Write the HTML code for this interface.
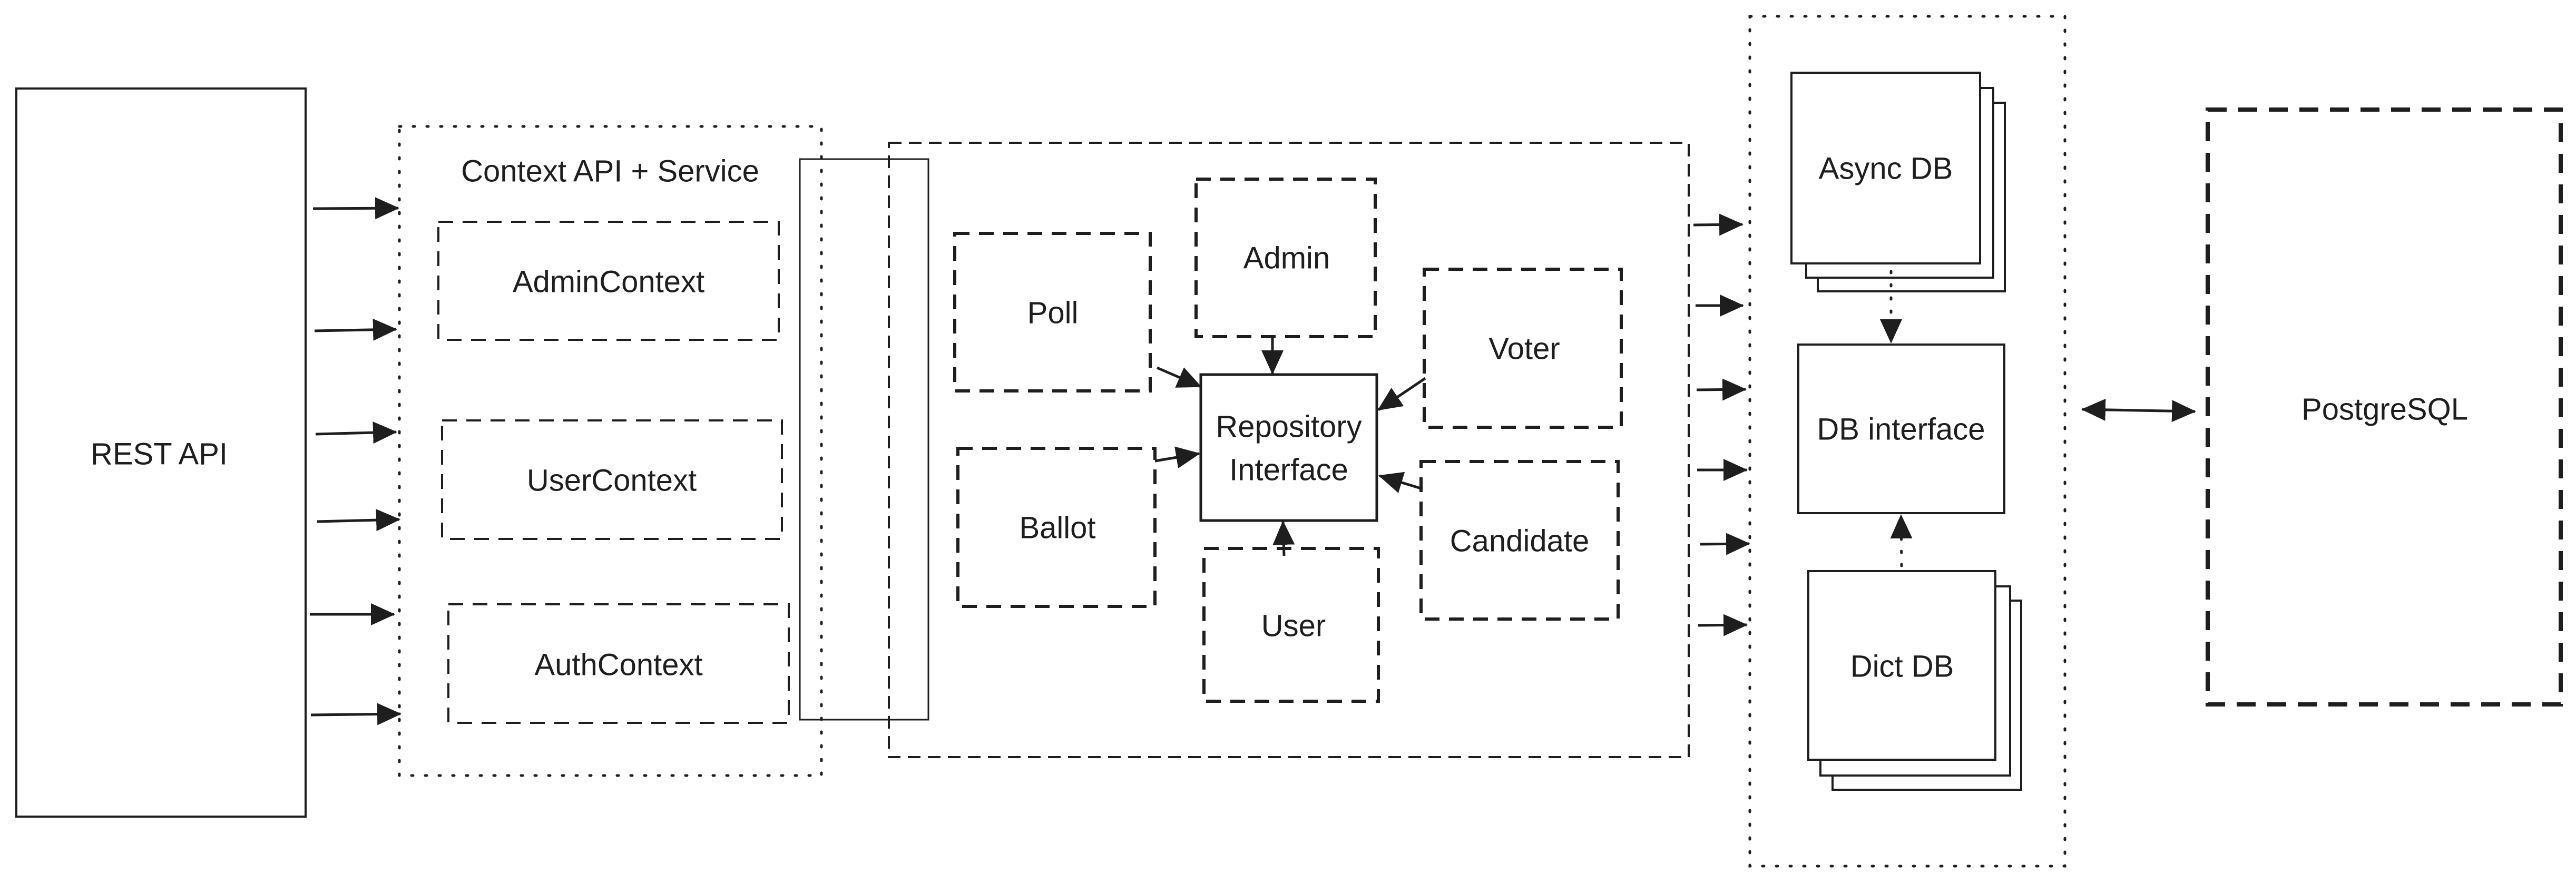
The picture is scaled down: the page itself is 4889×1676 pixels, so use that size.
<!DOCTYPE html>
<html><head><meta charset="utf-8"><style>
html,body{margin:0;padding:0;background:#fff}
svg{display:block}
text{font-family:"Liberation Sans",sans-serif;fill:#1e1e1e;text-anchor:middle;dominant-baseline:central}
</style></head><body>
<svg width="4889" height="1676" viewBox="0 0 4889 1676" xmlns="http://www.w3.org/2000/svg">
<defs>
<marker id="ah" viewBox="0 0 46 46" refX="44" refY="23" markerWidth="46" markerHeight="46" markerUnits="userSpaceOnUse" orient="auto">
<path d="M0,2 L46,23 L0,44 Z" fill="#1e1e1e"/></marker>
<marker id="ahs" viewBox="0 0 46 46" refX="2" refY="23" markerWidth="46" markerHeight="46" markerUnits="userSpaceOnUse" orient="auto">
<path d="M46,2 L0,23 L46,44 Z" fill="#1e1e1e"/></marker>
</defs>
<g fill="none" stroke="#1e1e1e">
<!-- REST API -->
<rect x="31" y="168" width="549" height="1382" stroke-width="4"/>
<!-- context dotted -->
<rect x="758" y="240" width="801" height="1232" stroke-width="5" stroke-dasharray="3 23" stroke-linecap="round"/>
<rect x="832" y="421" width="646" height="224" stroke-width="4" stroke-dasharray="28 18"/>
<rect x="839" y="798" width="645" height="225" stroke-width="4" stroke-dasharray="28 18"/>
<rect x="851" y="1147" width="646" height="225" stroke-width="4" stroke-dasharray="28 18"/>
<!-- thin solid -->
<rect x="1518" y="302" width="244" height="1064" stroke-width="3"/>
<!-- large dashed -->
<rect x="1687" y="271" width="1518" height="1166" stroke-width="4" stroke-dasharray="24 14"/>
<!-- entity boxes -->
<rect x="1812" y="443" width="371" height="299" stroke-width="6" stroke-dasharray="28 18"/>
<rect x="2270" y="340" width="340" height="299" stroke-width="6" stroke-dasharray="28 18"/>
<rect x="2703" y="511" width="374" height="300" stroke-width="6" stroke-dasharray="28 18"/>
<rect x="1818" y="851" width="374" height="300" stroke-width="6" stroke-dasharray="28 18"/>
<rect x="2697" y="876" width="374" height="299" stroke-width="6" stroke-dasharray="28 18"/>
<rect x="2285" y="1041" width="331" height="290" stroke-width="6" stroke-dasharray="28 18"/>
<rect x="2279" y="711" width="334" height="277" stroke-width="5"/>
<!-- DB dotted -->
<rect x="3321" y="31" width="598" height="1613" stroke-width="5" stroke-dasharray="3 23" stroke-linecap="round"/>
<!-- stacks -->
<rect x="3450" y="195" width="355" height="358" stroke-width="4" fill="#fff"/>
<rect x="3428" y="167" width="355" height="360" stroke-width="4" fill="#fff"/>
<rect x="3400" y="138" width="358" height="362" stroke-width="4" fill="#fff"/>
<rect x="3413" y="654" width="391" height="320" stroke-width="4"/>
<rect x="3478" y="1140" width="358" height="359" stroke-width="4" fill="#fff"/>
<rect x="3455" y="1113" width="360" height="359" stroke-width="4" fill="#fff"/>
<rect x="3432" y="1084" width="355" height="358" stroke-width="4" fill="#fff"/>
<!-- PostgreSQL -->
<rect x="4190" y="208" width="670" height="1129" stroke-width="8" stroke-dasharray="36 22"/>
<!-- arrows REST -> context -->
<g stroke-width="5" marker-end="url(#ah)">
<line x1="594" y1="396" x2="756" y2="395"/>
<line x1="597" y1="628" x2="752" y2="625"/>
<line x1="599" y1="824" x2="752" y2="820"/>
<line x1="602" y1="990" x2="758" y2="986"/>
<line x1="588" y1="1166" x2="748" y2="1166"/>
<line x1="590" y1="1357" x2="760" y2="1355"/>
</g>
<!-- arrows big -> DB -->
<g stroke-width="5" marker-end="url(#ah)">
<line x1="3214" y1="427" x2="3307" y2="426"/>
<line x1="3218" y1="580" x2="3308" y2="580"/>
<line x1="3220" y1="740" x2="3313" y2="739"/>
<line x1="3221" y1="892" x2="3315" y2="892"/>
<line x1="3227" y1="1033" x2="3320" y2="1032"/>
<line x1="3223" y1="1187" x2="3315" y2="1186"/>
</g>
<!-- inner arrows -->
<g stroke-width="5" marker-end="url(#ah)">
<line x1="2196" y1="698" x2="2279" y2="734"/>
<line x1="2415" y1="642" x2="2415" y2="709"/>
<line x1="2705" y1="718" x2="2616" y2="778"/>
<line x1="2192" y1="875" x2="2276" y2="861"/>
<line x1="2700" y1="928" x2="2618" y2="903"/>
<line x1="2437" y1="1055" x2="2435" y2="990"/>
</g>
<!-- dotted DB arrows -->
<g stroke-width="5" stroke-dasharray="3 22" stroke-linecap="round" marker-end="url(#ah)">
<line x1="3589" y1="515" x2="3589" y2="650"/>
<line x1="3609" y1="1074" x2="3608" y2="978"/>
</g>
<line x1="3952" y1="777" x2="4166" y2="781" stroke-width="5" marker-end="url(#ah)" marker-start="url(#ahs)"/>
</g>
<g font-size="58">
<text x="302" y="862">REST API</text>
<text x="1158" y="325">Context API + Service</text>
<text x="1155" y="535">AdminContext</text>
<text x="1161" y="912">UserContext</text>
<text x="1174" y="1262">AuthContext</text>
<text x="1998" y="594">Poll</text>
<text x="2442" y="490">Admin</text>
<text x="2893" y="662">Voter</text>
<text x="2007" y="1002">Ballot</text>
<text x="2446" y="810">Repository</text>
<text x="2446" y="892">Interface</text>
<text x="2884" y="1027">Candidate</text>
<text x="2455" y="1188">User</text>
<text x="3579" y="320">Async DB</text>
<text x="3608" y="815">DB interface</text>
<text x="3610" y="1265">Dict DB</text>
<text x="4526" y="777">PostgreSQL</text>
</g>
</svg>
</body></html>
